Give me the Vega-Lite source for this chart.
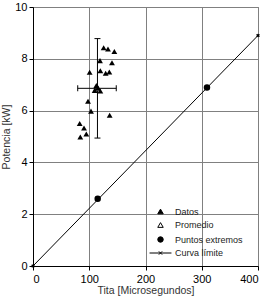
{
  "$schema": "https://vega.github.io/schema/vega-lite/v6.json",
  "autosize": "none",
  "width": 225,
  "height": 259,
  "padding": {"left": 33, "top": 7, "right": 7, "bottom": 33},
  "background": "white",
  "config": {
    "font": "Liberation Sans",
    "view": {"stroke": "#808080", "strokeWidth": 1},
    "point": {"opacity": 1},
    "legend": {"symbolOpacity": 1},
    "axis": {
      "grid": true,
      "gridColor": "#808080",
      "gridOpacity": 1,
      "gridWidth": 1,
      "domainColor": "black",
      "domainWidth": 1,
      "tickColor": "black",
      "tickSize": 4,
      "labelColor": "black",
      "labelFontSize": 11,
      "titleFontSize": 10.5,
      "titleFontWeight": "normal",
      "titleColor": "#333333"
    }
  },
  "datasets": {
    "datos": [
      {"serie": "Datos", "tita": 125.6, "potencia": 8.43},
      {"serie": "Datos", "tita": 133.3, "potencia": 8.38},
      {"serie": "Datos", "tita": 144.6, "potencia": 8.28},
      {"serie": "Datos", "tita": 119.1, "potencia": 7.93},
      {"serie": "Datos", "tita": 140.4, "potencia": 7.85},
      {"serie": "Datos", "tita": 100.7, "potencia": 7.48},
      {"serie": "Datos", "tita": 119.7, "potencia": 7.54},
      {"serie": "Datos", "tita": 129.2, "potencia": 7.44},
      {"serie": "Datos", "tita": 135.7, "potencia": 7.49},
      {"serie": "Datos", "tita": 112.6, "potencia": 6.97},
      {"serie": "Datos", "tita": 109.6, "potencia": 6.78},
      {"serie": "Datos", "tita": 119.7, "potencia": 6.76},
      {"serie": "Datos", "tita": 115.5, "potencia": 6.88},
      {"serie": "Datos", "tita": 97.8, "potencia": 6.36},
      {"serie": "Datos", "tita": 103.1, "potencia": 5.98},
      {"serie": "Datos", "tita": 136.3, "potencia": 5.82},
      {"serie": "Datos", "tita": 83.0, "potencia": 5.5},
      {"serie": "Datos", "tita": 90.7, "potencia": 5.33},
      {"serie": "Datos", "tita": 94.8, "potencia": 5.1},
      {"serie": "Datos", "tita": 84.1, "potencia": 4.98}
    ],
    "promedio": [
      {"serie": "Promedio", "tita": 114.6, "potencia": 6.86,
       "titaMin": 79.5, "titaMax": 148.0, "potMin": 4.94, "potMax": 8.78}
    ],
    "extremos": [
      {"serie": "Puntos extremos", "tita": 115, "potencia": 2.6},
      {"serie": "Puntos extremos", "tita": 309.3, "potencia": 6.89}
    ],
    "curva": [
      {"serie": "Curva límite", "tita": 0, "potencia": 0},
      {"serie": "Curva límite", "tita": 400, "potencia": 8.9}
    ]
  },
  "encoding": {
    "x": {
      "field": "tita", "type": "quantitative",
      "scale": {"domain": [0, 400], "nice": false},
      "axis": {"values": [0, 100, 200, 300, 400], "title": "Tita [Microsegundos]",
               "labelPadding": 3, "titlePadding": 1}
    },
    "y": {
      "field": "potencia", "type": "quantitative",
      "scale": {"domain": [0, 10], "nice": false},
      "axis": {"values": [0, 2, 4, 6, 8, 10], "title": "Potencia [kW]",
               "labelPadding": 2, "titlePadding": 3}
    }
  },
  "layer": [
    {
      "data": {"name": "curva"},
      "mark": {"type": "line", "color": "black", "strokeWidth": 1, "clip": true},
      "encoding": {}
    },
    {
      "data": {"name": "curva"},
      "mark": {"type": "point", "shape": "cross", "angle": 45, "size": 14,
               "filled": true, "color": "black", "opacity": 1},
      "encoding": {}
    },
    {
      "data": {"name": "promedio"},
      "mark": {"type": "rule", "color": "black", "strokeWidth": 1},
      "encoding": {"y": {"field": "potMin", "type": "quantitative"}, "y2": {"field": "potMax"}}
    },
    {
      "data": {"name": "promedio"},
      "mark": {"type": "rule", "color": "black", "strokeWidth": 1},
      "encoding": {"x": {"field": "titaMin", "type": "quantitative"}, "x2": {"field": "titaMax"}}
    },
    {
      "data": {"name": "promedio"},
      "layer": [
        {"mark": {"type": "tick", "orient": "horizontal", "size": 6, "thickness": 1, "color": "black", "opacity": 1},
         "encoding": {"y": {"field": "potMin", "type": "quantitative"}}},
        {"mark": {"type": "tick", "orient": "horizontal", "size": 6, "thickness": 1, "color": "black", "opacity": 1},
         "encoding": {"y": {"field": "potMax", "type": "quantitative"}}},
        {"mark": {"type": "tick", "orient": "vertical", "size": 6, "thickness": 1, "color": "black", "opacity": 1},
         "encoding": {"x": {"field": "titaMin", "type": "quantitative"}}},
        {"mark": {"type": "tick", "orient": "vertical", "size": 6, "thickness": 1, "color": "black", "opacity": 1},
         "encoding": {"x": {"field": "titaMax", "type": "quantitative"}}}
      ]
    },
    {
      "data": {"name": "promedio"},
      "mark": {"type": "point", "filled": true, "size": 34, "stroke": "black", "strokeWidth": 1, "opacity": 1},
      "encoding": {
        "shape": {"field": "serie", "type": "nominal"},
        "fill": {"field": "serie", "type": "nominal"}
      }
    },
    {
      "data": {"name": "datos"},
      "mark": {"type": "point", "filled": true, "size": 34, "opacity": 1},
      "encoding": {
        "shape": {"field": "serie", "type": "nominal"},
        "fill": {"field": "serie", "type": "nominal"}
      }
    },
    {
      "data": {"name": "extremos"},
      "mark": {"type": "point", "filled": true, "size": 42, "opacity": 1},
      "encoding": {
        "shape": {
          "field": "serie", "type": "nominal",
          "scale": {
            "domain": ["Datos", "Promedio", "Puntos extremos", "Curva límite"],
            "range": ["triangle-up", "triangle-up", "circle",
                      "M-4,0H4M-0.6,-0.6L0.6,0.6M-0.6,0.6L0.6,-0.6"]
          },
          "legend": {
            "title": null, "orient": "none", "legendX": 123, "legendY": 200,
            "padding": 0, "symbolSize": 30, "symbolOpacity": 1, "labelFontSize": 9, "labelColor": "#222222",
            "labelOffset": 10, "rowPadding": 3.5,
            "symbolStrokeWidth": 1,
            "encode": {"symbols": {"update": {"stroke": {"value": "black"}, "strokeWidth": {"value": 1}, "opacity": {"value": 1}}}}
          }
        },
        "fill": {
          "field": "serie", "type": "nominal",
          "scale": {
            "domain": ["Datos", "Promedio", "Puntos extremos", "Curva límite"],
            "range": ["black", "white", "black", "transparent"]
          },
          "legend": {
            "title": null, "orient": "none", "legendX": 123, "legendY": 200,
            "padding": 0, "symbolSize": 30, "symbolOpacity": 1, "labelFontSize": 9, "labelColor": "#222222",
            "labelOffset": 10, "rowPadding": 3.5,
            "symbolStrokeWidth": 1,
            "encode": {"symbols": {"update": {"stroke": {"value": "black"}, "strokeWidth": {"value": 1}, "opacity": {"value": 1}}}}
          }
        }
      }
    }
  ]
}
